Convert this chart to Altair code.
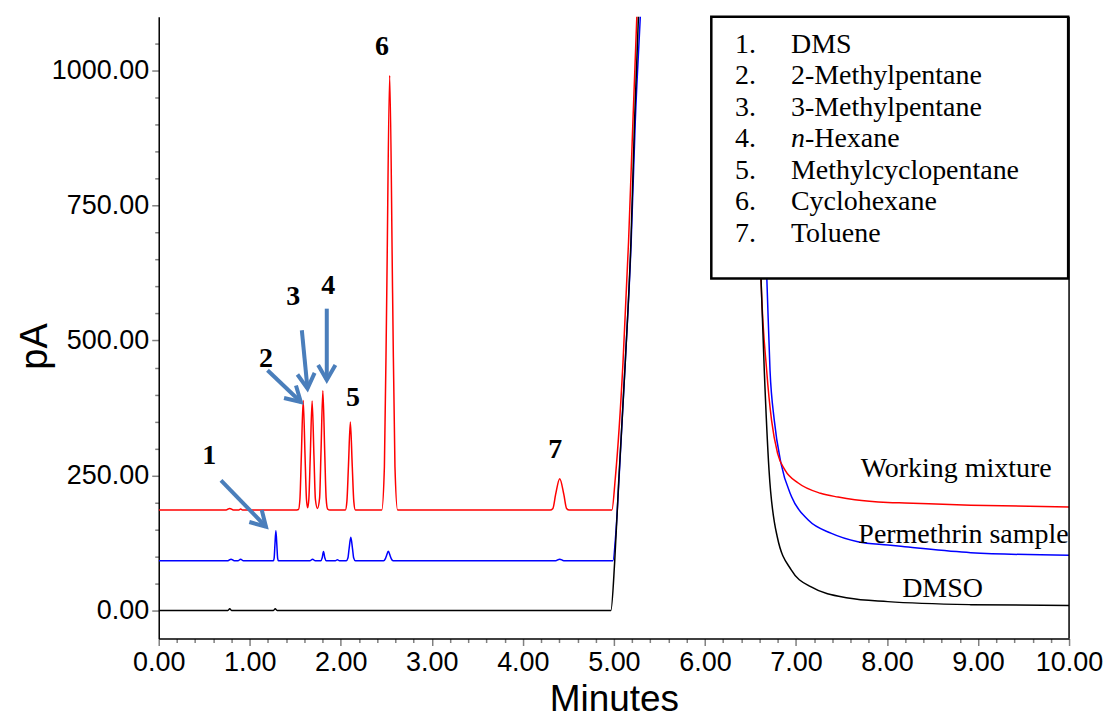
import math
import altair as alt
import pandas as pd

# ---------------- data ----------------
# Working mixture (red)
red_t = [0.00, 0.74, 0.78, 0.82, 0.88, 0.90, 0.92, 1.50, 1.535, 1.551, 1.567, 1.587, 1.607, 1.623,
         1.636, 1.649, 1.665, 1.685, 1.705, 1.721, 1.744, 1.767, 1.783, 1.803, 1.823, 1.839, 1.855,
         1.880, 2.050, 2.067, 2.084, 2.105, 2.126, 2.143, 2.160, 2.450, 2.479, 2.505, 2.537, 2.569,
         2.595, 2.624, 4.300, 4.330, 4.360, 4.405, 4.450, 4.480, 4.510, 4.978, 5.015, 5.100, 5.161,
         5.209, 5.252, 5.400, 5.900, 6.400, 6.580, 6.616, 6.678, 6.732, 6.798, 6.880, 7.025, 7.270,
         7.463, 7.647, 8.010, 8.195, 8.920, 10.00]
red_v = [186, 186, 189, 186, 186, 188, 186, 186, 187, 206, 288, 389, 288, 206,
         190, 206, 287, 388, 287, 206, 189, 208, 296, 407, 296, 208, 188,
         186, 186, 202, 267, 349, 267, 202, 186, 186, 266, 588, 991, 588,
         266, 186, 186, 189, 215, 244, 215, 189, 186, 186, 244, 459, 683,
         906, 1100, 1700, 4000, 2500, 850, 615, 445, 352, 291, 260, 236, 217,
         210, 205, 200, 199, 195, 191.5]

# Permethrin sample (blue)
blue_t = [0.00, 0.76, 0.794, 0.83, 0.87, 0.90, 0.93, 1.259, 1.268, 1.276, 1.287, 1.298, 1.306, 1.315,
          1.66, 1.69, 1.72, 1.78, 1.795, 1.81, 1.825, 1.84, 1.94, 1.963, 1.985, 2.06, 2.078, 2.091,
          2.11, 2.129, 2.142, 2.16, 2.47, 2.49, 2.501, 2.522, 2.543, 2.554, 2.575, 4.36, 4.405, 4.45,
          4.989, 5.02, 5.055, 5.125, 5.19, 5.235, 5.29, 5.45, 5.90, 6.40, 6.60, 6.680, 6.715, 6.762,
          6.835, 6.952, 7.135, 7.390, 7.680, 8.010, 8.195, 8.920, 10.00]
blue_v = [92, 92, 95, 92, 92, 95, 92, 92, 97, 120, 147.6, 120, 97, 92,
          92, 95, 92, 92, 97, 109, 97, 92, 92, 94, 92, 92, 97, 114,
          135.4, 114, 97, 92, 92, 96, 101, 109.5, 101, 96, 92, 92, 95, 92,
          92, 140, 240, 460, 683, 906, 1100, 1700, 4000, 2500, 900, 615, 445, 352,
          273, 210.5, 167.4, 142.8, 127.3, 121, 118, 107, 102]

# DMSO (black)
black_t = [0.00, 0.76, 0.78, 0.80, 1.26, 1.28, 1.30, 4.967, 5.008, 5.052, 5.125, 5.187, 5.227, 5.27,
           5.45, 5.90, 6.40, 6.58, 6.616, 6.652, 6.704, 6.795, 6.948,
           7.167, 7.573, 8.01, 8.92, 10.0]
black_v = [0, 0, 3, 0, 0, 3, 0, 0, 88, 236, 460, 683, 906, 1100,
           1700, 4000, 2500, 850, 615, 445, 260, 136, 75,
           43.5, 23, 16.3, 10.7, 9]

# compound key
cmp_num = ["1.", "2.", "3.", "4.", "5.", "6.", "7."]
cmp_name = ["DMS", "2-Methylpentane", "3-Methylpentane", "-Hexane", "Methylcyclopentane",
            "Cyclohexane", "Toluene"]

# peak labels (text, minutes, pA)
peak_lab = ["1", "2", "3", "4", "5", "6", "7"]
peak_t = [0.556, 1.178, 1.477, 1.861, 2.135, 2.453, 4.357]
peak_v = [271, 451, 565, 587, 379, 1028, 283]

# arrows (tail -> tip), minutes / pA
arr_t1 = [0.684, 1.195, 1.572, 1.846]
arr_v1 = [241, 445, 519, 559]
arr_t2 = [1.178, 1.561, 1.634, 1.846]
arr_v2 = [155, 386, 411, 427]

# trace labels
trace_lab = ["Working mixture", "Permethrin sample", "DMSO"]
trace_t = [8.76, 8.84, 8.61]
trace_v = [247.5, 124.3, 25.5]

# ---------------- layout ----------------
W, H = 912, 623
XD = [0, 10]
YD = [-52, 1100]
pxx = W / (XD[1] - XD[0])
pxy = H / (YD[1] - YD[0])

xs = alt.Scale(domain=XD, nice=False, zero=False)
ys = alt.Scale(domain=YD, nice=False, zero=False)

SANS = "Liberation Sans"
SERIF = "Liberation Serif"

x_vals = [round(i * 0.2, 1) for i in range(51)]
y_vals = [i * 50 for i in range(22)]

x_axis = alt.Axis(
    values=x_vals, title="Minutes",
    labelExpr="abs(datum.value - round(datum.value)) < 0.01 ? format(datum.value, '.2f') : ''",
    tickSize={"condition": {"test": "abs(datum.value - round(datum.value)) < 0.01", "value": 7}, "value": 4},
    tickColor="#808080", tickWidth=1.5, domainColor="black", domainWidth=1.5,
    labelFont=SANS, labelFontSize=27, labelColor="black", labelPadding=4,
    labelFlush=False, labelOverlap=False, labelBound=False,
    titleFont=SANS, titleFontSize=37, titleFontWeight="normal", titleColor="black",
    titleBaseline="alphabetic", titleY=72, grid=False,
)
y_axis = alt.Axis(
    values=y_vals, title="pA",
    labelExpr="datum.value % 250 === 0 ? format(datum.value, '.2f') : ''",
    tickSize={"condition": {"test": "datum.value % 250 === 0", "value": 7}, "value": 4},
    tickColor="#808080", tickWidth=1.5, domainColor="black", domainWidth=1.5,
    labelFont=SANS, labelFontSize=27, labelColor="black", labelPadding=3,
    labelFlush=False, labelOverlap=False, labelBound=False,
    titleFont=SANS, titleFontSize=38, titleFontWeight="normal", titleColor="black",
    titleAngle=270, titleBaseline="middle", titleX=-123, titleY=330, grid=False,
)


def X(field):
    return alt.X(field, type="quantitative", scale=xs, axis=x_axis)


def Y(field):
    return alt.Y(field, type="quantitative", scale=ys, axis=y_axis)


def trace(ts, vs, color):
    df = pd.DataFrame({"t": ts, "v": vs})
    return alt.Chart(df).mark_line(
        color=color, strokeWidth=1.5, interpolate="monotone", clip=True
    ).encode(x=X("t"), y=Y("v"))


blue_line = trace(blue_t, blue_v, "#0000ff")
red_line = trace(red_t, red_v, "#ff0000")
black_line = trace(black_t, black_v, "#000000")

# key box
box_df = pd.DataFrame({"t": [6.07], "t2": [9.99], "v": [615], "v2": [1100]})
box = alt.Chart(box_df).mark_rect(fill="white", stroke="black", strokeWidth=2.5).encode(
    x=X("t"), x2="t2:Q", y=Y("v"), y2="v2:Q",
)

key_df = pd.DataFrame({
    "num": cmp_num, "name": cmp_name,
    "tn": [6.331] * 7, "t": [6.945] * 7,
    "v": [1033 - 58.4 * i for i in range(7)],
    "ital": [i == 3 for i in range(7)],
})
key_num = alt.Chart(key_df).mark_text(
    font=SERIF, fontSize=28, align="left", baseline="alphabetic", color="black"
).encode(x=X("tn"), y=Y("v"), text="num:N")
key_name = alt.Chart(key_df[~key_df["ital"]]).mark_text(
    font=SERIF, fontSize=28, align="left", baseline="alphabetic", color="black"
).encode(x=X("t"), y=Y("v"), text="name:N")
key_hex = alt.Chart(key_df[key_df["ital"]]).mark_text(
    font=SERIF, fontSize=28, align="left", baseline="alphabetic", color="black", dx=14
).encode(x=X("t"), y=Y("v"), text="name:N")
key_n = alt.Chart(key_df[key_df["ital"]]).mark_text(
    font=SERIF, fontSize=28, fontStyle="italic", align="left", baseline="alphabetic", color="black"
).encode(x=X("t"), y=Y("v"), text=alt.value("n"))

# arrows
ang = [(math.degrees(math.atan2((b - a) * pxx, (d - c) * pxy))) % 360
       for a, b, c, d in zip(arr_t1, arr_t2, arr_v1, arr_v2)]
arr_df = pd.DataFrame({"t1": arr_t1, "v1": arr_v1, "t": arr_t2, "v": arr_v2, "ang": ang})
ARROW = "#4a7ebb"
shafts = alt.Chart(arr_df).mark_rule(color=ARROW, strokeWidth=4, strokeCap="butt").encode(
    x=X("t1"), y=Y("v1"), x2="t:Q", y2="v:Q",
)
heads = alt.Chart(arr_df).mark_point(
    shape="M -0.577 1 L 0 0 L 0.577 1", filled=False, stroke=ARROW, strokeWidth=4,
    size=900, opacity=1, strokeJoin="miter",
).encode(
    x=X("t"), y=Y("v"),
    angle=alt.Angle("ang:Q", scale=None),
)

peaks_df = pd.DataFrame({"lab": peak_lab, "t": peak_t, "v": peak_v})
peaks = alt.Chart(peaks_df).mark_text(
    font=SERIF, fontSize=28, fontWeight="bold", align="center", baseline="alphabetic", color="black"
).encode(x=X("t"), y=Y("v"), text="lab:N")

tr_df = pd.DataFrame({"lab": trace_lab, "t": trace_t, "v": trace_v})
trace_text = alt.Chart(tr_df).mark_text(
    font=SERIF, fontSize=28, align="center", baseline="alphabetic", color="black"
).encode(x=X("t"), y=Y("v"), text="lab:N")

frame_df = pd.DataFrame({"t": [10.0], "v": [YD[0]], "v2": [YD[1]]})
frame = alt.Chart(frame_df).mark_rule(color="black", strokeWidth=1.5).encode(
    x=X("t"), y=Y("v"), y2="v2:Q",
)

chart = alt.layer(
    blue_line, red_line, black_line, frame, box, key_num, key_name, key_hex, key_n,
    shafts, heads, peaks, trace_text,
).properties(
    width=W, height=H,
    autosize=alt.AutoSizeParams(type="none"),
    padding={"left": 151, "top": 8, "right": 34, "bottom": 76},
    background="white",
).configure_view(stroke=None)

chart.save("out.html", embed_options={"renderer": "svg", "actions": False})
